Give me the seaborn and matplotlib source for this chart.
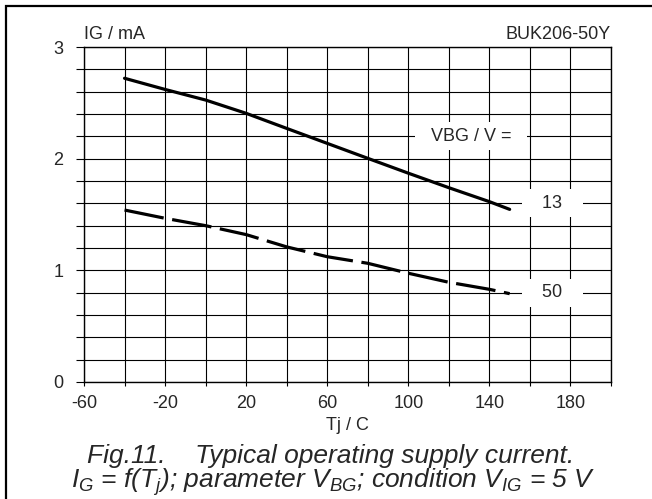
import numpy as np
import pandas as pd
import matplotlib
matplotlib.use("Agg")
import matplotlib.pyplot as plt
from matplotlib.patches import Rectangle
import seaborn as sns

# =============== DATA ===============
tj = [-40, -20, 0, 20, 40, 60, 80, 100, 120, 140, 150]
ig_13v = [2.72, 2.62, 2.525, 2.406, 2.271, 2.137, 2.003, 1.87, 1.74, 1.615, 1.546]
ig_50v = [1.54, 1.466, 1.40, 1.32, 1.21, 1.122, 1.063, 0.974, 0.893, 0.83, 0.791]
vbg_levels = [13, 50]
label_y = [1.6, 0.8]

x_ticks = list(range(-60, 201, 20))
x_labels = [str(v) if (v + 60) % 40 == 0 and v < 200 else "" for v in x_ticks]
y_ticks = [round(0.2 * i, 1) for i in range(16)]
y_labels = [str(int(v)) if abs(v - round(v)) < 1e-9 else "" for v in y_ticks]

df = pd.DataFrame({
    "tj": tj * 2,
    "ig": ig_13v + ig_50v,
    "vbg": [13] * len(tj) + [50] * len(tj),
})

# =============== STYLE ===============
sns.set_style("white")
plt.rcParams["font.family"] = ["Liberation Sans", "DejaVu Sans"]
plt.rcParams["mathtext.fontset"] = "custom"
plt.rcParams["mathtext.it"] = "Liberation Sans:italic"
plt.rcParams["mathtext.rm"] = "Liberation Sans:italic"

FS = 13

fig = plt.figure(figsize=(6.52, 4.99), dpi=100)
ax = fig.add_axes([84 / 652, 1 - 382 / 499, (611 - 84) / 652, (382 - 47) / 499])

sns.lineplot(data=df, x="tj", y="ig", style="vbg",
             dashes={13: "", 50: (12.5, 2.7)}, color="black",
             linewidth=2.3, legend=False, ax=ax, zorder=3)

ax.set_xlim(-60, 200)
ax.set_ylim(0, 3)
ax.set_xticks(x_ticks)
ax.set_xticklabels(x_labels)
ax.set_yticks(y_ticks)
ax.set_yticklabels(y_labels)
ax.grid(True, color="black", linewidth=0.8)
ax.tick_params(axis="x", direction="out", length=3, width=0.8, pad=6,
               labelsize=FS, color="black")
ax.tick_params(axis="y", direction="out", length=6, width=0.8, pad=9,
               labelsize=FS, color="black")
ax.tick_params(left=True, bottom=True)
for s in ax.spines.values():
    s.set_color("black")
    s.set_linewidth(1.0)

ax.set_xlabel("Tj / C", fontsize=FS, labelpad=4)
ax.set_ylabel("")

# axis captions above plot
ax.text(-60, 1.012, "IG / mA", transform=ax.get_xaxis_transform(),
        fontsize=FS, ha="left", va="bottom")
ax.text(200, 1.012, "BUK206-50Y", transform=ax.get_xaxis_transform(),
        fontsize=FS, ha="right", va="bottom")

# curve labels
box = dict(boxstyle="square,pad=0.3", facecolor="white", edgecolor="none")
ax.text(131, 2.2, "  VBG / V =  ", fontsize=FS, ha="center", va="center",
        bbox=box, zorder=4)
for v, yy in zip(vbg_levels, label_y):
    ax.text(171, yy, f"   {v}   ", fontsize=FS, ha="center", va="center",
            bbox=box, zorder=4)

# figure caption
fig.text(331 / 652, 1 - 463 / 499, "Fig.11.    Typical operating supply current.",
         fontsize=19, style="italic", ha="center", va="baseline")
fig.text(333 / 652, 1 - 488 / 499,
         "$I_G$ = f($T_j$); parameter $V_{BG}$; condition $V_{IG}$ = 5 V",
         fontsize=19, style="italic", ha="center", va="baseline")

# outer frame (only top and left edges fall inside the image)
fig.add_artist(Rectangle((6 / 652, -0.2), 1.2, 1.2 - 6 / 499,
                         transform=fig.transFigure, fill=False,
                         edgecolor="black", linewidth=1.6))

fig.savefig("out.png", dpi=100)
